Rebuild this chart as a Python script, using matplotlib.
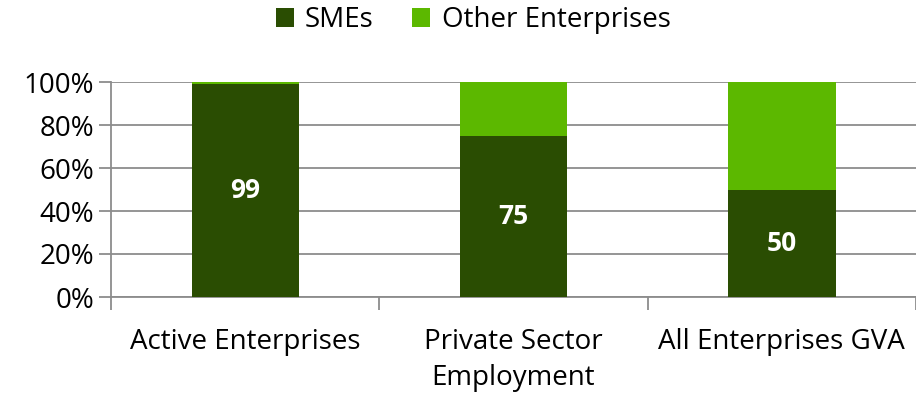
import matplotlib
matplotlib.use("Agg")
import matplotlib.pyplot as plt
import numpy as np

categories = ["Active Enterprises", "Private Sector\nEmployment", "All Enterprises GVA"]
smes = [99, 75, 50]
others = [1, 25, 50]
yticks = [0, 20, 40, 60, 80, 100]
ytick_labels = ["0%", "20%", "40%", "60%", "80%", "100%"]

plt.rcParams['font.family'] = ['Open Sans', 'DejaVu Sans']
dark = "#2a4d02"
light = "#5cb800"
grid = "#8c8c8c"
fs = 20

fig = plt.figure(figsize=(9.16, 3.93), dpi=100)
ax = fig.add_axes([111/916, 1-297/393, (916-111)/916, (297-82)/393])

x = np.arange(len(categories))
b1 = ax.bar(x, smes, width=0.4, color=dark, label="SMEs", zorder=3)
b2 = ax.bar(x, others, width=0.4, bottom=smes, color=light, label="Other Enterprises", zorder=3)

for xi, v in zip(x, smes):
    ax.text(xi, v/2, f"{v}", ha="center", va="center", color="white",
            fontsize=19, fontweight="bold", zorder=4)

ax.set_xlim(-0.5, len(categories)-0.5)
ax.set_ylim(0, 100)
ax.set_yticks(yticks)
ax.set_yticklabels(ytick_labels, fontsize=fs)
ax.yaxis.grid(True, color=grid, linewidth=1.3, zorder=0)
ax.set_axisbelow(True)

ax.set_xticks(x)
ax.set_xticklabels(categories, fontsize=fs, linespacing=1.4)
ax.set_xticks(np.arange(len(categories)+1)-0.5, minor=True)
ax.tick_params(axis='x', which='major', length=0, pad=22)
ax.tick_params(axis='x', which='minor', length=9, color=grid, width=1.3)
ax.tick_params(axis='y', length=9, color=grid, width=1.3, pad=3)

for s in ['top', 'right']:
    ax.spines[s].set_visible(False)
for s in ['left', 'bottom']:
    ax.spines[s].set_color(grid)
    ax.spines[s].set_linewidth(1.3)

fig.legend(handles=[b1, b2], labels=["SMEs", "Other Enterprises"], loc="center",
           bbox_to_anchor=(473/916, 1-20/393), ncol=2, frameon=False, fontsize=fs,
           handlelength=0.65, handleheight=0.65, handletextpad=0.4, columnspacing=1.4)

fig.savefig("out.png", dpi=100)
